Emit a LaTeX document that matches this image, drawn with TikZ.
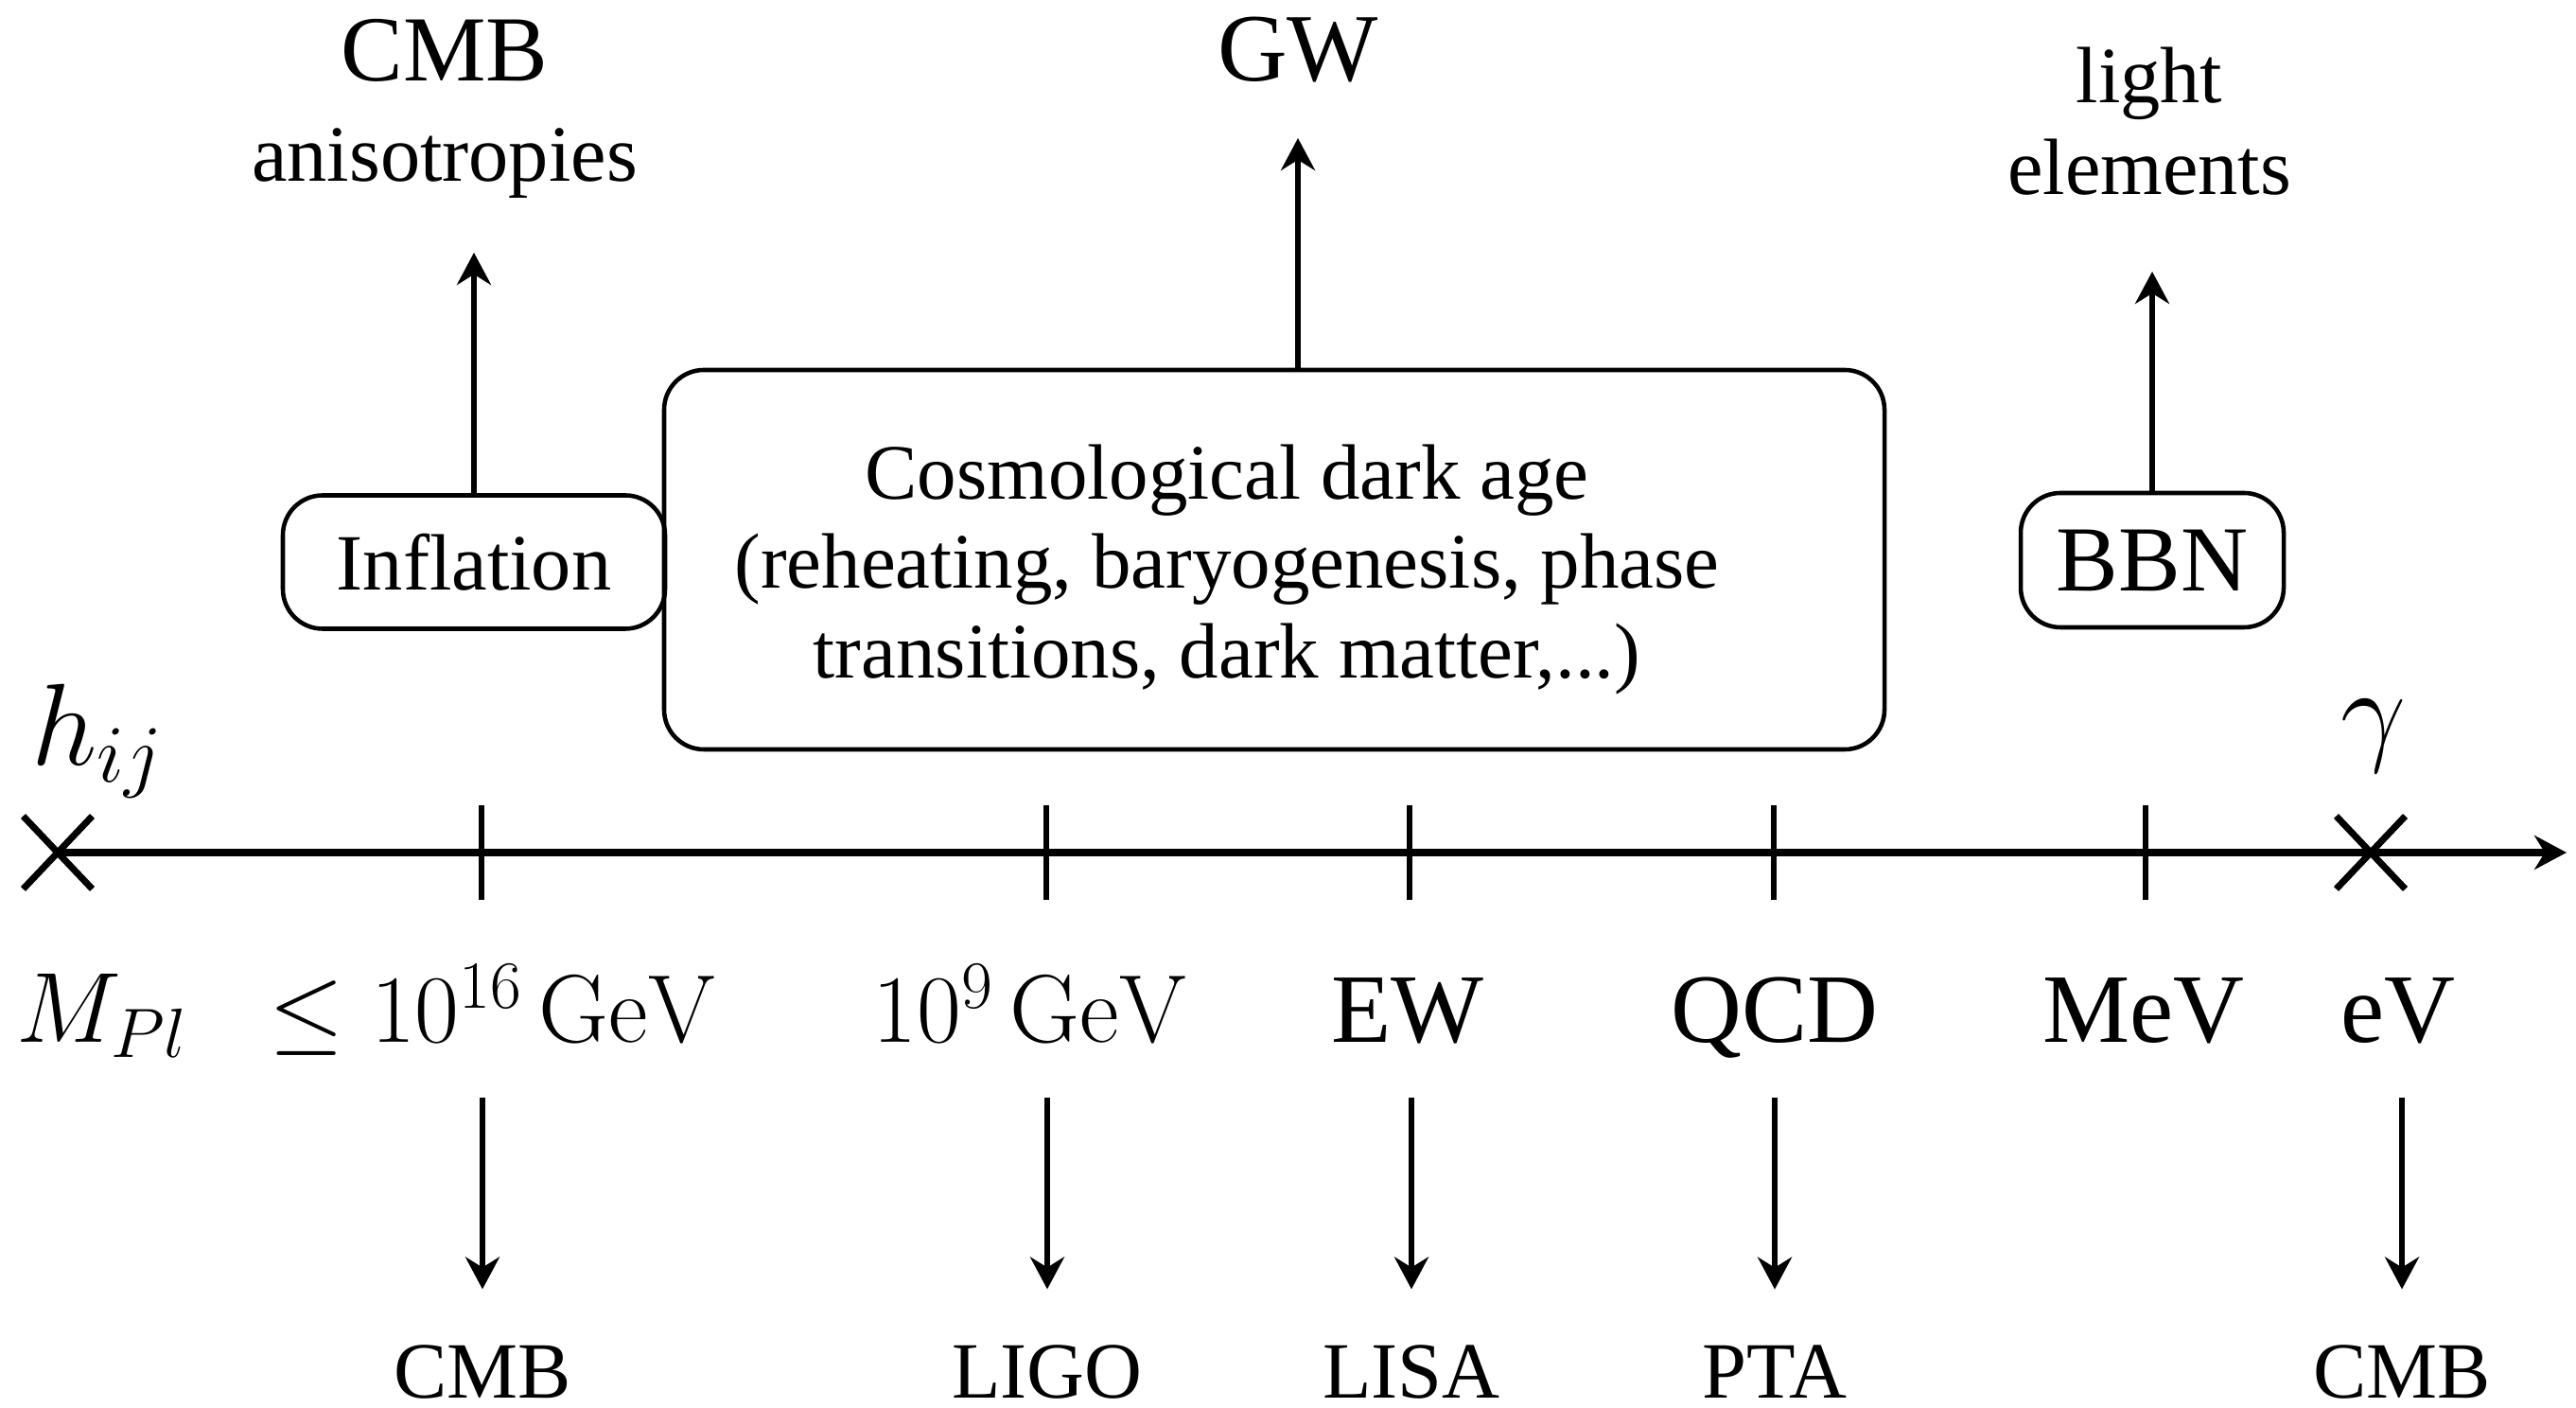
\RequirePackage{fix-cm}
\documentclass[tikz,border=0pt]{standalone}
\usepackage{amsmath}
\usepackage{amssymb}
\usepackage[no-math]{fontspec}
\setmainfont{Liberation Serif}
\usetikzlibrary{arrows.meta,shapes.misc}

\begin{document}
\begin{tikzpicture}[xscale=1,yscale=1,
  era/.style={draw, rounded corners=0.42cm, line width=1.3pt, inner sep=0pt,
    font=\fontsize{24}{28}\selectfont},
  axlbl/.style={anchor=base, text depth=0pt, inner ysep=0.57cm,
    font=\fontsize{29.5}{35}\selectfont},
  obs/.style={anchor=base, inner ysep=0.05cm, font=\fontsize{24}{29}\selectfont},
  goal/.style={anchor=south, align=center, inner ysep=0.57cm,
    font=\fontsize{24}{30}\selectfont},
  up/.style={-{Stealth[length=0.34cm,width=0.36cm]}, line width=1.8pt},
  down/.style={up, shorten >=0.53cm},
  crossmark/.style={draw, cross out, minimum width=0.66cm, minimum height=0.7cm,
    inner sep=0pt, line width=2pt},
  tickmark/.style={line width=1.7pt}]
\useasboundingbox (0,0) rectangle (27.23,14.87);

% axis
\node[crossmark] (planck) at (0.61,5.86) {};
\node[crossmark] (today) at (25.06,5.86) {};
\coordinate (axisend) at (27.13,5.86);
\draw[line width=2pt, -{Stealth[length=0.34cm,width=0.36cm]}] (planck.center) -- (axisend);
\foreach \x in {5.09,11.06,14.90,18.75,22.68}
  \draw[tickmark] (\x,5.36) -- (\x,6.36);
\node[font=\fontsize{35}{40}\selectfont] (hlbl) at (1.03,7.04) {$h_{ij}$};
\node[font=\fontsize{35}{40}\selectfont] (glbl) at (25.09,7.09) {$\gamma$};

% scales
\node[axlbl, font=\fontsize{30}{36}\selectfont] (mpl) at (1.08,3.85) {$M_{Pl}$};
\node[axlbl, font=\fontsize{29}{35}\selectfont] (e16) at (5.21,3.85) {$\leq 10^{16}\,\mathrm{GeV}$};
\node[axlbl, font=\fontsize{29}{35}\selectfont] (e9) at (10.89,3.85) {$10^9\,\mathrm{GeV}$};
\node[axlbl] (ew) at (14.88,3.85) {EW};
\node[axlbl] (qcd) at (18.76,3.85) {QCD};
\node[axlbl] (mev) at (22.66,3.85) {MeV};
\node[axlbl] (ev) at (25.35,3.85) {eV};

% probes
\node[obs] (cmbA) at (5.10,0.10) {CMB};
\node[obs] (ligo) at (11.07,0.10) {LIGO};
\node[obs] (lisa) at (14.92,0.10) {LISA};
\node[obs] (pta) at (18.76,0.10) {PTA};
\node[obs] (cmbB) at (25.39,0.10) {CMB};
\draw[down] (cmbA.north |- e16.south) -- (cmbA.north);
\draw[down] (ligo.north |- e9.south) -- (ligo.north);
\draw[down] (lisa.north |- ew.south) -- (lisa.north);
\draw[down] (pta.north |- qcd.south) -- (pta.north);
\draw[down] (cmbB.north |- ev.south) -- (cmbB.north);

% epochs
\node[era, minimum width=4.04cm, minimum height=1.41cm] (infl) at (5.01,8.93) {Inflation};
\node[era, minimum width=12.9cm, minimum height=4.01cm] (dark) at (13.47,8.955) {};
\node[align=center, font=\fontsize{23.6}{27}\selectfont] (darktxt) at (12.97,8.85)
  {Cosmological dark age\\(reheating, baryogenesis, phase\\transitions, dark matter,...)};
\node[era, minimum width=2.78cm, minimum height=1.42cm, font=\fontsize{28}{33}\selectfont] (bbn) at (22.75,8.95) {BBN};

% signals
\node[goal] (cmbtxt) at (4.70,12.20) {{\fontsize{28}{30}\selectfont CMB}\\anisotropies};
\node[goal, font=\fontsize{29}{35}\selectfont, inner ysep=0.58cm] (gw) at (13.72,13.41) {GW};
\node[goal, inner ysep=0.80cm, font=\fontsize{24}{27.6}\selectfont] (light) at (22.72,12.00) {light\\elements};
\draw[up] (infl.north) -- (infl.north |- cmbtxt.south);
\draw[up] (dark.north -| gw) -- (gw.south);
\draw[up] (bbn.north) -- (bbn.north |- light.south);
\end{tikzpicture}
\end{document}
